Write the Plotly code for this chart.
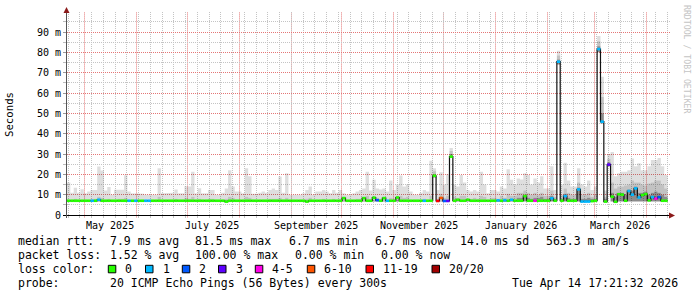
import plotly.graph_objects as go
import pandas as pd

# ---------------- data ----------------
t_start = "2025-04-20 06:47"
t_end = "2026-04-14 17:21:32"
bin_days = 2

median = [
    7.0, 7.0, 7.0, 7.0, 7.0, 7.0, 7.0, 7.0, 7.0, 7.5,
    7.0, 7.0, 7.0, 7.0, 7.0, 7.0, 7.0, 7.0, 7.0, 7.0,
    7.0, 7.0, 7.0, 7.0, 7.0, 7.0, 7.0, 7.0, 7.0, 7.0,
    7.0, 7.0, 7.0, 7.0, 7.0, 7.0, 7.0, 7.0, 7.0, 7.0,
    7.0, 7.0, 7.0, 7.0, 7.0, 7.0, 7.0, 6.6, 7.0, 7.0,
    7.0, 7.0, 7.0, 7.0, 7.0, 7.0, 7.0, 7.0, 7.0, 7.0,
    7.0, 7.0, 7.0, 7.0, 7.0, 7.0, 7.0, 7.0, 7.0, 7.0,
    7.0, 6.6, 7.0, 7.0, 7.0, 7.0, 7.0, 7.0, 7.0, 7.0,
    7.0, 7.0, 8.3, 7.0, 7.0, 7.0, 7.0, 7.0, 8.3, 7.0,
    7.0, 8.5, 7.3, 7.0, 8.3, 7.0, 7.0, 7.0, 8.6, 7.0,
    7.0, 7.0, 7.0, 7.0, 7.0, 7.0, 7.0, 7.0, 7.0, 19.3,
    6.9, 8.4, 6.9, 6.9, 28.7, 7.0, 7.5, 7.0, 7.0, 7.5,
    7.0, 7.0, 7.0, 7.0, 7.0, 7.0, 7.0, 7.0, 7.2, 7.0,
    7.3, 7.0, 7.5, 7.0, 7.0, 7.0, 9.3, 7.0, 7.0, 7.0,
    7.0, 7.0, 7.0, 7.0, 8.2, 7.0, 75.4, 7.0, 9.3, 7.0,
    7.0, 7.0, 12.6, 6.6, 6.6, 6.6, 6.8, 7.0, 81.6, 45.9,
    6.6, 24.8, 9.0, 6.5, 10.2, 10.0, 7.0, 11.8, 10.0, 13.1,
    8.6, 9.8, 10.3, 7.2, 8.8, 8.0, 8.8, 7.0, 7.0, None,
]

loss_class = [
    0, 0, 0, 0, 0, 0, 0, 1, 0, 1,
    0, 0, 0, 0, 0, 0, 0, 0, 1, 0,
    1, 0, 0, 1, 1, 0, 0, 0, 0, 0,
    0, 0, 0, 0, 0, 0, 0, 0, 0, 0,
    0, 0, 0, 0, 0, 0, 0, 0, 0, 0,
    0, 0, 0, 0, 0, 0, 0, 0, 0, 0,
    0, 0, 0, 0, 0, 0, 0, 0, 0, 0,
    0, 0, 0, 0, 0, 0, 0, 0, 0, 0,
    0, 0, 0, 0, 0, 0, 0, 0, 0, 0,
    0, 0, 2, 0, 0, 1, 0, 0, 0, 0,
    0, 0, 0, 0, 0, 0, 1, 0, 0, 0,
    6, 5, 2, 3, 0, 0, 0, 0, 0, 0,
    0, 0, 0, 0, 0, 0, 0, 0, 1, 0,
    1, 0, 1, 0, 0, 0, 0, 0, 0, 4,
    0, 0, 0, 0, 1, 0, 1, 0, 1, 0,
    0, 0, 1, 1, 1, 1, 0, 0, 1, 1,
    0, 3, 0, 0, 0, 0, 0, 1, 1, 1,
    1, 0, 0, 0, 1, 4, 2, 0, 0, 0,
]

smoke_lo = [
    6.7, 6.7, 6.7, 6.7, 6.7, 6.7, 6.7, 6.7, 6.7, 6.7,
    6.7, 6.7, 6.7, 6.7, 6.7, 6.7, 6.7, 6.7, 6.7, 6.7,
    6.7, 6.7, 6.7, 6.7, 6.7, 6.7, 6.7, 6.7, 6.7, 6.7,
    6.7, 6.7, 6.7, 6.7, 6.7, 6.7, 6.7, 6.7, 6.7, 6.7,
    6.7, 6.7, 6.7, 6.7, 6.7, 6.7, 6.7, 6.7, 6.7, 6.7,
    6.7, 6.7, 6.7, 6.7, 6.7, 6.7, 6.7, 6.7, 6.7, 6.7,
    6.7, 6.7, 6.7, 6.7, 6.7, 6.7, 6.7, 6.7, 6.7, 6.7,
    6.7, 6.7, 6.7, 6.7, 6.7, 6.7, 6.7, 6.7, 6.7, 6.7,
    6.7, 6.7, 6.7, 6.7, 6.7, 6.7, 6.7, 6.7, 6.7, 6.7,
    6.7, 6.7, 6.7, 6.7, 6.7, 6.7, 6.7, 6.7, 6.7, 6.7,
    6.7, 6.7, 6.7, 6.7, 6.7, 6.7, 6.7, 6.7, 6.7, 18.5,
    6.7, 6.7, 6.7, 6.7, 28.0, 6.7, 6.7, 6.7, 6.7, 6.7,
    6.7, 6.7, 6.7, 6.7, 6.7, 6.7, 6.7, 6.7, 6.7, 6.7,
    6.7, 6.7, 6.7, 6.7, 6.7, 6.7, 6.7, 6.7, 6.7, 6.7,
    6.7, 6.7, 6.7, 6.7, 6.7, 6.7, 74.0, 6.7, 6.7, 6.7,
    6.7, 6.7, 6.7, 6.7, 6.7, 6.7, 6.7, 6.7, 80.0, 45.0,
    6.7, 24.0, 6.7, 6.7, 6.7, 6.7, 6.7, 6.7, 6.7, 6.7,
    6.7, 6.7, 6.7, 6.7, 6.7, 6.7, 6.7, 6.7, 6.7, None,
]
smoke_dark = [
    7.0, 7.0, 7.0, 7.0, 7.0, 7.0, 7.0, 7.0, 7.0, 7.0,
    7.0, 7.0, 7.0, 7.0, 7.0, 7.0, 7.0, 7.0, 7.0, 7.0,
    7.0, 7.0, 7.0, 7.0, 7.0, 7.0, 7.0, 7.0, 7.0, 7.0,
    7.0, 7.0, 7.0, 7.0, 7.0, 7.0, 7.0, 7.0, 7.0, 7.0,
    7.0, 7.0, 7.0, 7.0, 7.0, 7.0, 7.0, 7.0, 7.0, 7.0,
    7.0, 7.0, 7.0, 7.0, 7.0, 7.0, 7.0, 7.0, 7.0, 7.0,
    7.0, 7.0, 7.0, 7.0, 7.0, 7.0, 7.0, 7.0, 7.0, 7.0,
    7.0, 7.0, 7.0, 7.0, 7.0, 7.0, 7.0, 7.0, 7.0, 7.0,
    7.0, 7.0, 7.0, 7.0, 7.0, 7.0, 7.0, 7.0, 7.0, 7.0,
    7.0, 7.0, 7.0, 7.0, 7.0, 7.0, 7.0, 7.0, 7.0, 7.0,
    7.0, 7.0, 7.0, 7.0, 7.0, 7.0, 7.0, 7.0, 7.0, 20.0,
    7.0, 7.0, 7.0, 7.0, 30.0, 7.0, 7.0, 7.0, 7.0, 7.0,
    7.0, 7.0, 7.0, 7.0, 7.0, 7.0, 7.0, 7.0, 7.0, 7.0,
    7.0, 7.0, 7.0, 7.0, 8.5, 8.5, 10.0, 8.5, 8.0, 8.5,
    8.5, 9.0, 8.0, 8.0, 9.5, 8.0, 76.5, 8.0, 10.5, 8.5,
    8.0, 8.0, 13.5, 8.0, 8.0, 8.5, 8.0, 8.0, 83.0, 50.0,
    8.0, 26.0, 11.0, 9.0, 11.0, 11.0, 10.0, 12.5, 12.0, 14.0,
    11.0, 11.0, 11.5, 10.0, 11.0, 11.5, 11.0, 10.0, 9.0, None,
]
smoke_mid = [
    7.5, 7.5, 8.0, 7.5, 7.5, 7.2, 7.5, 8.0, 8.0, 9.0,
    8.5, 7.5, 8.0, 7.2, 7.5, 8.0, 8.0, 8.5, 7.5, 7.2,
    7.2, 7.2, 7.2, 7.2, 7.2, 7.2, 7.2, 9.0, 7.5, 7.5,
    7.5, 7.5, 8.0, 7.5, 7.5, 8.5, 8.0, 9.0, 7.5, 8.0,
    7.5, 7.5, 8.0, 8.0, 7.2, 7.2, 7.5, 8.0, 9.0, 8.5,
    7.5, 7.5, 7.5, 9.0, 8.5, 7.5, 7.5, 7.5, 7.5, 7.5,
    8.0, 8.0, 8.0, 8.5, 7.5, 8.5, 7.2, 7.2, 7.2, 7.2,
    7.5, 8.0, 8.5, 7.2, 7.5, 7.5, 8.0, 7.5, 7.5, 8.0,
    7.5, 8.0, 9.0, 7.5, 7.5, 7.5, 8.0, 8.0, 9.0, 9.5,
    8.0, 9.5, 8.5, 8.0, 9.0, 7.5, 8.5, 8.0, 9.5, 9.5,
    8.5, 9.0, 7.5, 7.2, 7.2, 7.5, 8.0, 7.5, 9.5, 21.5,
    8.0, 10.5, 8.5, 9.5, 31.5, 9.0, 8.5, 9.5, 9.5, 8.0,
    8.0, 8.5, 8.0, 9.5, 9.0, 7.5, 8.5, 8.5, 8.0, 9.5,
    8.5, 10.5, 9.5, 9.5, 11.0, 11.0, 12.0, 11.0, 10.0, 11.0,
    10.0, 11.0, 9.5, 9.5, 12.0, 9.0, 78.5, 10.0, 13.0, 11.0,
    10.0, 10.0, 16.0, 10.0, 10.0, 11.0, 9.0, 10.0, 85.5, 58.0,
    9.0, 27.5, 16.0, 13.0, 14.0, 14.0, 14.5, 15.0, 17.0, 16.0,
    16.0, 15.0, 14.5, 15.5, 16.0, 17.0, 17.0, 15.0, 13.0, None,
]
smoke_hi = [
    16.0, 11.0, 13.4, 11.0, 12.7, 10.7, 11.5, 12.3, 12.3, 23.8,
    21.9, 12.0, 13.8, 10.0, 12.4, 12.4, 12.4, 19.6, 11.5, 10.7,
    10.5, 10.5, 10.5, 10.0, 10.0, 10.0, 10.0, 23.0, 10.7, 10.7,
    10.7, 11.0, 12.6, 10.7, 10.7, 14.2, 14.0, 21.3, 10.7, 13.1,
    10.7, 10.7, 12.3, 12.3, 10.0, 10.0, 11.0, 13.0, 22.0, 14.0,
    11.5, 11.5, 10.7, 23.0, 19.0, 10.5, 10.5, 11.0, 11.5, 11.0,
    12.3, 13.0, 12.3, 18.9, 11.0, 20.5, 10.0, 10.0, 10.0, 10.0,
    10.7, 12.3, 14.0, 10.0, 11.5, 11.5, 12.3, 11.5, 10.7, 12.3,
    11.0, 12.3, 10.7, 10.0, 10.0, 10.7, 11.5, 12.3, 13.0, 21.3,
    12.0, 17.3, 13.0, 12.5, 13.0, 11.5, 17.0, 12.3, 15.0, 19.4,
    14.0, 15.0, 11.5, 10.0, 10.0, 11.0, 12.3, 11.5, 26.7, 23.0,
    12.3, 21.0, 15.0, 20.0, 33.0, 15.0, 14.0, 19.7, 16.0, 12.3,
    11.5, 12.3, 11.5, 21.3, 15.0, 10.7, 12.3, 12.3, 11.5, 14.0,
    13.0, 22.5, 17.3, 15.0, 18.0, 17.5, 20.5, 19.7, 15.0, 17.9,
    16.0, 19.0, 13.0, 13.0, 24.0, 12.3, 80.8, 15.0, 25.7, 17.0,
    14.0, 14.0, 23.0, 15.0, 14.0, 17.0, 12.3, 14.0, 88.0, 68.0,
    12.0, 30.0, 31.0, 19.0, 20.5, 21.3, 21.3, 22.0, 27.8, 24.0,
    25.5, 22.0, 22.0, 24.0, 27.0, 27.0, 28.0, 24.0, 19.7, None,
]

loss_colors = ["#26ff00", "#00b8ff", "#0059ff", "#5e00ff",
               "#ff00ea", "#ff5500", "#ff0000", "#a10000"]
loss_labels = ["0", "1", "2", "3", "4-5", "6-10", "11-19", "20/20"]

month_label_dates = ["2025-05-16", "2025-07-16", "2025-09-16",
                     "2025-11-16", "2026-01-16", "2026-03-16"]
month_labels = ["May 2025", "July 2025", "September 2025",
                "November 2025", "January 2026", "March 2026"]
major_grid_start = "2025-05-01"
minor_grid_start = "2025-04-21"
ytick_vals = [0, 10, 20, 30, 40, 50, 60, 70, 80, 90]
ytick_text = ["0", "10 m", "20 m", "30 m", "40 m", "50 m",
              "60 m", "70 m", "80 m", "90 m"]
ytick_minor = [5, 15, 25, 35, 45, 55, 65, 75, 85, 95]

stats_rtt = ["7.9 ms avg", "81.5 ms max", "6.7 ms min",
             "6.7 ms now", "14.0 ms sd", "563.3 m am/s"]
stats_loss = ["1.52 % avg", "100.00 % max", "0.00 % min", "0.00 % now"]
probe_text = "20 ICMP Echo Pings (56 Bytes) every 300s"
stamp_text = "Tue Apr 14 17:21:32 2026"

# ---------------- layout geometry (pixels) ----------------
W, H = 697, 297
PL, PR, PT, PB = 67, 670, 12, 215
px_per_ms = 183 / 90.0
y_top = (PB - PT) / px_per_ms
MONO = "DejaVu Sans Mono"
red_grid = "#e47676"
gray_grid = "#c4c4c4"


def fx(px):
    return (px - PL) / (PR - PL)


def fy(py):
    return (PB - py) / (PB - PT)


ts0, ts1 = pd.Timestamp(t_start), pd.Timestamp(t_end)


def date_at_px_center(d):
    px = PL + (d - ts0) / (ts1 - ts0) * (PR - PL)
    snapped = int(px) + 0.5
    out = ts0 + (snapped - PL) / (PR - PL) * (ts1 - ts0)
    return out.floor("s").strftime("%Y-%m-%d %H:%M:%S")


edges = [ts0 + pd.Timedelta(days=bin_days * i) for i in range(len(median) + 1)]


def steps(vals):
    xs, ys = [], []
    for i, v in enumerate(vals):
        xs += [edges[i], edges[i + 1]]
        ys += [v, v]
    return xs, ys


fig = go.Figure()

sx, sy_lo = steps(smoke_lo)
_, sy_dark = steps(smoke_dark)
_, sy_mid = steps(smoke_mid)
_, sy_hi = steps(smoke_hi)
fig.add_trace(go.Scatter(x=sx, y=sy_lo, mode="lines", line=dict(width=0),
                         hoverinfo="skip", showlegend=False))
fig.add_trace(go.Scatter(x=sx, y=sy_dark, mode="lines", line=dict(width=0),
                         fill="tonexty", fillcolor="rgba(0,0,0,0.45)",
                         hoverinfo="skip", showlegend=False))
fig.add_trace(go.Scatter(x=sx, y=sy_mid, mode="lines", line=dict(width=0),
                         fill="tonexty", fillcolor="rgba(0,0,0,0.24)",
                         hoverinfo="skip", showlegend=False))
fig.add_trace(go.Scatter(x=sx, y=sy_hi, mode="lines", line=dict(width=0),
                         fill="tonexty", fillcolor="rgba(0,0,0,0.13)",
                         hoverinfo="skip", showlegend=False))

mx, my = steps(median)
fig.add_trace(go.Scatter(x=mx, y=my, mode="lines",
                         line=dict(color="#111111", width=1.2),
                         hoverinfo="skip", showlegend=False))

for c, col in enumerate(loss_colors):
    xs, ys = [], []
    for i, v in enumerate(median):
        if v is None or loss_class[i] != c:
            continue
        xs += [edges[i], edges[i + 1], None]
        ys += [v, v, None]
    if xs:
        fig.add_trace(go.Scatter(x=xs, y=ys, mode="lines",
                                 line=dict(color=col, width=2.6),
                                 hoverinfo="skip", showlegend=False))

fig.update_xaxes(
    type="date", range=[t_start, t_end], showticklabels=False,
    tick0=minor_grid_start, dtick=7 * 86400000, showgrid=True,
    gridcolor=gray_grid, griddash="1px,1px", gridwidth=1,
    ticks="outside", ticklen=2, tickcolor=gray_grid,
    zeroline=False, showline=False,
)
fig.update_yaxes(
    range=[0, y_top], tickmode="array", tickvals=ytick_vals,
    ticktext=ytick_text, showgrid=True, gridcolor=red_grid,
    griddash="1px,1px", gridwidth=1, ticks="outside", ticklen=3,
    tickcolor="#999999", zeroline=False, showline=False,
    tickfont=dict(family=MONO, size=10, color="#000000"),
    minor=dict(tickmode="array", tickvals=ytick_minor,
               showgrid=True, gridcolor=gray_grid, griddash="1px,1px",
               gridwidth=1, ticks="outside", ticklen=3, tickcolor="#bbbbbb"),
)

shapes = []
# monthly major grid lines (red dotted), snapped to pixel columns
for d in pd.date_range(major_grid_start, ts1, freq="MS"):
    xd = date_at_px_center(d)
    shapes.append(dict(type="line", xref="x", yref="paper", x0=xd, x1=xd,
                       y0=-0.012, y1=1, layer="below",
                       line=dict(color=red_grid, width=1, dash="1px,1px")))
shapes.append(dict(type="line", xref="paper", yref="paper",
                   x0=fx(63), x1=fx(670), y0=fy(215.5), y1=fy(215.5),
                   line=dict(color="#000000", width=1), layer="above"))
shapes.append(dict(type="line", xref="paper", yref="paper",
                   x0=fx(66.5), x1=fx(66.5), y0=fy(218), y1=fy(11),
                   line=dict(color="#555555", width=1), layer="above"))
shapes.append(dict(type="path", xref="paper", yref="paper",
                   path=f"M {fx(669)} {fy(212.5)} L {fx(675)} {fy(215.5)} L {fx(669)} {fy(218.5)} Z",
                   fillcolor="#8b1a1a", line=dict(width=0), layer="above"))
shapes.append(dict(type="path", xref="paper", yref="paper",
                   path=f"M {fx(63.5)} {fy(13)} L {fx(66.5)} {fy(7)} L {fx(69.5)} {fy(13)} Z",
                   fillcolor="#8b1a1a", line=dict(width=0), layer="above"))

ann = []
for d, lab in zip(month_label_dates, month_labels):
    ann.append(dict(x=d, xref="x", y=fy(225), yref="paper", text=lab,
                    showarrow=False, xanchor="center", yanchor="middle",
                    font=dict(family=MONO, size=10, color="#000000")))
ann.append(dict(x=fx(10), y=fy(115), xref="paper", yref="paper", text="Seconds",
                showarrow=False, textangle=-90, xanchor="center", yanchor="middle",
                font=dict(family=MONO, size=10.7, color="#000000")))
ann.append(dict(x=fx(687), y=fy(59), xref="paper", yref="paper",
                text="RRDTOOL / TOBI OETIKER", showarrow=False, textangle=90,
                xanchor="center", yanchor="middle",
                font=dict(family=MONO, size=8.2, color="#c4c4c4")))


def txt(px, py, s, anchor="left"):
    ann.append(dict(x=fx(px), y=fy(py), xref="paper", yref="paper", text=s,
                    showarrow=False, xanchor=anchor, yanchor="middle",
                    font=dict(family=MONO, size=11.5, color="#000000")))


row_y = [241.3, 255.3, 269.3, 283.0]
txt(16, row_y[0], "median rtt:")
for x, s in zip([108, 193, 287, 373, 458, 544], stats_rtt):
    txt(x, row_y[0], s)
txt(16, row_y[1], "packet loss:")
for x, s in zip([108, 193, 293, 379], stats_loss):
    txt(x, row_y[1], s)
txt(16, row_y[2], "loss color:")
box_x = [108.3, 145.5, 182.3, 218.5, 255.3, 307.3, 366, 432]
lab_x = [123.3, 160.5, 197.3, 233.5, 270.3, 322.3, 380.5, 446.5]
for bx, lx, col, lab in zip(box_x, lab_x, loss_colors, loss_labels):
    shapes.append(dict(type="rect", xref="paper", yref="paper",
                       x0=fx(bx), x1=fx(bx + 7.5), y0=fy(272.8), y1=fy(265.3),
                       fillcolor=col, line=dict(color="#000000", width=1)))
    txt(lx, row_y[2], lab)
txt(16, row_y[3], "probe:")
txt(108, row_y[3], probe_text)
txt(680, row_y[3], stamp_text, anchor="right")

fig.update_layout(
    width=W, height=H,
    margin=dict(l=PL, r=W - PR, t=PT, b=H - PB, pad=0),
    paper_bgcolor="#ffffff", plot_bgcolor="#ffffff",
    showlegend=False, shapes=shapes, annotations=ann,
    font=dict(family=MONO),
)

fig.write_html("out.html")
